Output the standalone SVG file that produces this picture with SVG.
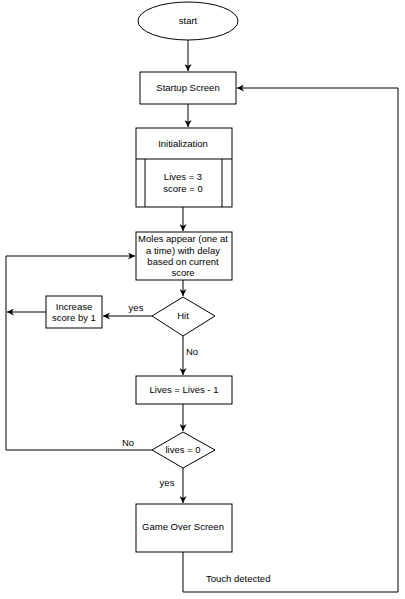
<svg xmlns="http://www.w3.org/2000/svg" width="405" height="599" viewBox="0 0 405 599">
<defs>
<marker id="arr" viewBox="0 0 10 10" refX="10" refY="5" markerWidth="7" markerHeight="7" markerUnits="userSpaceOnUse" orient="auto">
<path d="M0,0 L10,5 L0,10 L3,5 Z" fill="#000"/>
</marker>
</defs>
<style>
.s{fill:#fff;stroke:#000;stroke-width:1}
.c{fill:none;stroke:#000;stroke-width:1}
text{font-family:"Liberation Sans",Arial,sans-serif;font-size:9.5px;fill:#000}
.m{text-anchor:middle}
</style>
<rect width="405" height="599" fill="#fff"/>
<g id="connectors">
<path class="c" d="M188,40 V71" marker-end="url(#arr)"/>
<path class="c" d="M188,104 V127" marker-end="url(#arr)"/>
<path class="c" d="M183,207 V231" marker-end="url(#arr)"/>
<path class="c" d="M183,280 V296" marker-end="url(#arr)"/>
<path class="c" d="M152,316 H103" marker-end="url(#arr)"/>
<path class="c" d="M46,312 H7" marker-end="url(#arr)"/>
<path class="c" d="M183,336 V375" marker-end="url(#arr)"/>
<path class="c" d="M183,404 V431" marker-end="url(#arr)"/>
<path class="c" d="M152,450 H6 V256 H135" marker-end="url(#arr)"/>
<path class="c" d="M183,468 V503" marker-end="url(#arr)"/>
<path class="c" d="M183,552 V592 H398 V88 H237" marker-end="url(#arr)"/>
<text x="136" y="311" class="m">yes</text>
<text x="192" y="355" class="m">No</text>
<text x="128" y="446" class="m">No</text>
<text x="167" y="486" class="m">yes</text>
<text x="206" y="582">Touch detected</text>
</g>
<g id="start">
<ellipse class="s" cx="188" cy="21" rx="50" ry="19"/>
<text x="188" y="24" class="m">start</text>
</g>
<g id="startup">
<rect class="s" x="140" y="72" width="96" height="32"/>
<text x="188" y="91" class="m">Startup Screen</text>
</g>
<g id="init">
<rect class="s" x="136" y="128" width="96" height="79"/>
<path class="c" d="M136,159 H232 M145,159 V207 M222,159 V207"/>
<text x="183" y="147" class="m">Initialization</text>
<text x="183" y="180" class="m">Lives = 3</text>
<text x="183" y="192" class="m">score = 0</text>
</g>
<g id="moles">
<rect class="s" x="136" y="232" width="96" height="48"/>
<text x="183" y="242" class="m">Moles appear (one at</text>
<text x="183" y="254" class="m">a time) with delay</text>
<text x="183" y="265" class="m">based on current</text>
<text x="183" y="276" class="m">score</text>
</g>
<g id="hit">
<path class="s" d="M183,297 L215,316 L183,336 L152,316 Z"/>
<text x="183" y="319" class="m">Hit</text>
</g>
<g id="increase">
<rect class="s" x="46" y="296" width="56" height="32"/>
<text x="74" y="310" class="m">Increase</text>
<text x="74" y="321" class="m">score by 1</text>
</g>
<g id="lives">
<rect class="s" x="136" y="376" width="96" height="28"/>
<text x="184" y="393" class="m">Lives = Lives - 1</text>
</g>
<g id="livescheck">
<path class="s" d="M183,432 L215,450 L183,468 L152,450 Z"/>
<text x="183" y="453" class="m">lives = 0</text>
</g>
<g id="gameover">
<rect class="s" x="136" y="504" width="96" height="48"/>
<text x="183" y="530" class="m">Game Over Screen</text>
</g>
</svg>
